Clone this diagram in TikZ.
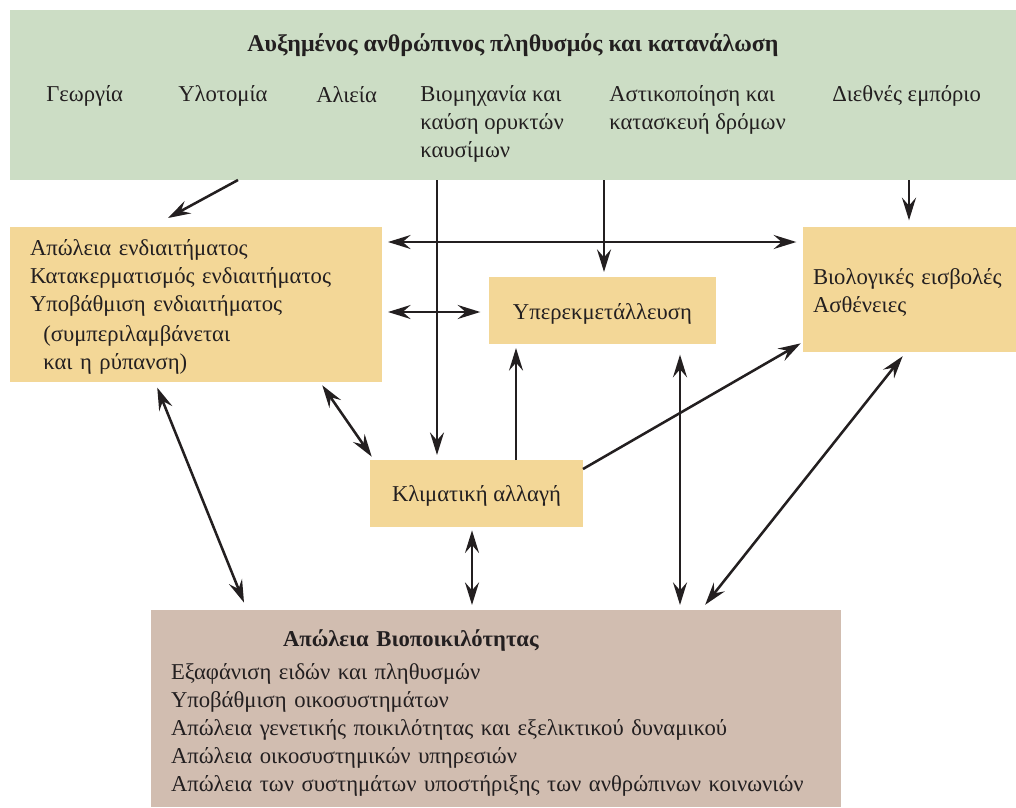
\documentclass[tikz,border=0pt]{standalone}
\usepackage{fontspec}
\setmainfont{Liberation Serif}
\usetikzlibrary{arrows.meta,calc}
\definecolor{hgreen}{HTML}{CCDDC5}
\definecolor{hyellow}{HTML}{F3D797}
\definecolor{hbrown}{HTML}{D1BDB0}
\definecolor{hink}{HTML}{231F20}
\tikzset{
  box/.style={anchor=north west, inner ysep=0pt, outer sep=0pt, font=\fontsize{17}{21}\selectfont, text=hink},
  lbl/.style={inner sep=0pt, font=\fontsize{17}{21}\selectfont, text=hink, align=left},
  arr/.style={draw=hink, line width=1.9pt, -{Stealth[length=17pt,width=10.5pt,inset=6pt]}},
  dbl/.style={draw=hink, line width=1.9pt, {Stealth[length=17pt,width=10.5pt,inset=6pt]}-{Stealth[length=17pt,width=10.5pt,inset=6pt]}},
}
\begin{document}
\begin{tikzpicture}[x=0.75pt,y=-0.75pt]
\useasboundingbox (0,0) rectangle (1016,807);
% boxes
\node[box, fill=hgreen, minimum width=754.5pt, minimum height=127.5pt] (green) at (10,10) {};
\node[box, fill=hyellow, minimum width=279pt, minimum height=116.25pt, inner xsep=15pt, text width=249pt, align=left,
  text height=21pt, text depth=95.25pt] (hab) at (10,227)
 {Απώλεια ενδιαιτήματος\\Κατακερματισμός ενδιαιτήματος\\Υποβάθμιση ενδιαιτήματος\\[1.5pt]\hspace*{10pt}(συμπεριλαμβάνεται\\\hspace*{10pt}και η ρύπανση)};
\node[box, fill=hyellow, minimum width=170.25pt, minimum height=50.25pt, align=center,
  text height=31.5pt, text depth=18.75pt] (over) at (489,277) {Υπερεκμετάλλευση};
\node[box, fill=hyellow, minimum width=159.75pt, minimum height=93.75pt, inner xsep=7.5pt, text width=144.75pt, align=left,
  text height=42.75pt, text depth=51pt] (bio) at (803,227)
 {Βιολογικές εισβολές\\Ασθένειες};
\node[box, fill=hyellow, minimum width=159.75pt, minimum height=50.25pt, align=center,
  text height=31pt, text depth=19.25pt] (clim) at (370,460) {Κλιματική αλλαγή};
\node[box, fill=hbrown, minimum width=517.5pt, minimum height=147.75pt, inner xsep=15pt, text width=487.5pt, align=left,
  text height=27pt, text depth=120.75pt] (loss) at (151,610)
 {\hspace*{84pt}\textbf{Απώλεια Βιοποικιλότητας}\\[3.75pt]Εξαφάνιση ειδών και πληθυσμών\\Υποβάθμιση οικοσυστημάτων\\Απώλεια γενετικής ποικιλότητας και εξελικτικού δυναμικού\\Απώλεια οικοσυστημικών υπηρεσιών\\Απώλεια των συστημάτων υποστήριξης των ανθρώπινων κοινωνιών};
% top texts
\node[lbl, font=\fontsize{18}{21}\selectfont\bfseries] (title) at (513,45) {Αυξημένος ανθρώπινος πληθυσμός και κατανάλωση};
\node[lbl, anchor=west] (t1) at (46,96) {Γεωργία};
\node[lbl, anchor=west] (t2) at (178,96) {Υλοτομία};
\node[lbl, anchor=west] (t3) at (316,95) {Αλιεία};
\node[lbl, anchor=north west] (t4) at (420,85) {Βιομηχανία και\\καύση ορυκτών\\καυσίμων};
\node[lbl, anchor=north west] (t5) at (609,85) {Αστικοποίηση και\\κατασκευή δρόμων};
\node[lbl, anchor=west] (t6) at (832,96) {Διεθνές εμπόριο};
% connectors
\coordinate (a1) at (168,218);
\draw[arr] (green.south -| 238,0) -- (a1);
\draw[arr, shorten >=3.75pt] (green.south -| 437,0) -- (clim.north -| 437,0);
\draw[arr, shorten >=3.75pt] (green.south -| 604,0) -- (over.north -| 604,0);
\draw[arr, shorten >=5pt] (green.south -| 909,0) -- (bio.north -| 909,0);
\draw[dbl, shorten <=4.5pt, shorten >=5pt] (hab.east |- 0,242) -- (bio.west |- 0,242);
\draw[dbl, shorten <=4.5pt, shorten >=6.5pt] (hab.east |- 0,312) -- (over.west |- 0,312);
\draw[arr, shorten >=3pt] (clim.north -| 516,0) -- (over.south -| 516,0);
\draw[dbl, shorten <=8pt, shorten >=3.75pt] (over.south -| 680,0) -- (loss.north -| 680,0);
\draw[arr, shorten >=2pt] (clim.east |- 0,469) -- (bio.west |- 0,342);
\draw[dbl, shorten <=3pt, shorten >=3pt] (hab.south -| 320,0) -- (clim.north -| 374,0);
\draw[dbl, shorten <=4.5pt, shorten >=6pt] (hab.south -| 155,0) -- (loss.north -| 247,0);
\draw[dbl, shorten <=2.5pt, shorten >=3.75pt] (clim.south -| 472,0) -- (loss.north -| 472,0);
\draw[dbl, shorten <=5pt, shorten >=4pt] (loss.north -| 701,0) -- (bio.south -| 906,0);
\end{tikzpicture}
\end{document}
